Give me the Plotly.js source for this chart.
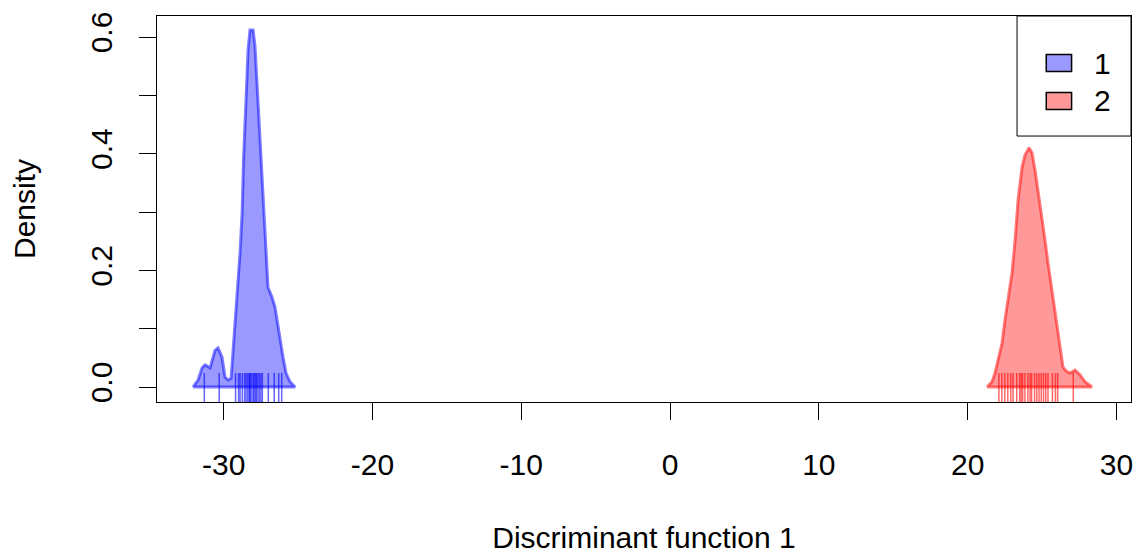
<!DOCTYPE html>
<html>
<head>
<meta charset="utf-8">
<script src="https://cdn.plot.ly/plotly-3.0.1.min.js"></script>
<style>
  html, body { margin: 0; padding: 0; background: #ffffff; }
  #chart { width: 1136px; height: 554px; }
</style>
</head>
<body>
<div id="chart"></div>
<script>
// Group labels
const groups = ["1", "2"];

// Kernel density of discriminant function 1, group 1
const dens1X = [-32.06, -31.72, -31.45, -31.25, -30.91, -30.58, -30.38, -30.11, -29.91, -29.70,
                -29.50, -29.37, -29.23, -29.03, -28.90, -28.76, -28.66, -28.49, -28.36, -28.23,
                -28.02, -27.89, -27.76, -27.62, -27.42, -27.28, -27.15, -27.02, -26.75, -26.55,
                -26.41, -26.21, -26.01, -25.81, -25.54, -25.20];
const dens1Y = [0.000, 0.012, 0.033, 0.038, 0.033, 0.063, 0.067, 0.051, 0.017, 0.012,
                0.015, 0.063, 0.103, 0.171, 0.230, 0.298, 0.394, 0.497, 0.578, 0.612,
                0.612, 0.583, 0.521, 0.441, 0.355, 0.286, 0.230, 0.171, 0.154, 0.137,
                0.115, 0.081, 0.051, 0.024, 0.009, 0.000];

// Kernel density of discriminant function 1, group 2
const dens2X = [21.30, 21.64, 21.84, 22.04, 22.31, 22.51, 22.72, 22.98, 23.19, 23.39,
                23.66, 23.86, 24.13, 24.33, 24.53, 24.73, 25.00, 25.20, 25.40, 25.67,
                25.87, 26.08, 26.28, 26.41, 26.68, 26.88, 27.22, 27.55, 27.89, 28.36];
const dens2Y = [0.000, 0.009, 0.024, 0.046, 0.075, 0.115, 0.154, 0.195, 0.252, 0.321,
                0.377, 0.398, 0.410, 0.401, 0.372, 0.338, 0.291, 0.252, 0.213, 0.166,
                0.127, 0.093, 0.058, 0.034, 0.026, 0.024, 0.029, 0.021, 0.009, 0.000];

// Individual scores (rug)
const scores1 = [-31.3, -30.3, -29.2, -29.0, -28.9, -28.75, -28.6, -28.5, -28.4, -28.3,
                 -28.25, -28.2, -28.1, -28.0, -27.95, -27.85, -27.8, -27.7, -27.6, -27.5,
                 -27.4, -27.0, -26.6, -26.3, -26.1];
const scores2 = [22.1, 22.3, 22.5, 22.7, 22.9, 23.05, 23.3, 23.5, 23.6, 23.7,
                 23.85, 24.05, 24.2, 24.3, 24.5, 24.65, 24.8, 24.95, 25.1, 25.25,
                 25.4, 25.7, 25.9, 26.05, 27.1];

// Axis ticks
const xTicks = [-30, -20, -10, 0, 10, 20, 30];
const xTickText = ["-30", "-20", "-10", "0", "10", "20", "30"];
const yTicks = [0, 0.1, 0.2, 0.3, 0.4, 0.5, 0.6];
const yTickText = ["0.0", "", "0.2", "", "0.4", "", "0.6"];

const Y_MIN = -0.0257, Y_MAX = 0.636;
const RUG_TOP = 0.024;
const FONT = "Liberation Sans, Arial, sans-serif";
const FSIZE = 30;

const fillCols = ["rgba(0,0,255,0.4)", "rgba(255,0,0,0.4)"];
const lineCols = ["rgba(0,0,255,0.5)", "rgba(255,0,0,0.5)"];
const rugCols  = ["rgba(0,0,255,0.6)", "rgba(255,0,0,0.6)"];
const swatchCols = ["#9999ff", "#ff9999"];

function polygon(xs, ys, i) {
  return {
    x: xs.concat([xs[0]]), y: ys.concat([ys[0]]),
    type: "scatter", mode: "lines", fill: "toself",
    fillcolor: fillCols[i],
    line: { color: lineCols[i], width: 3 },
    name: groups[i], showlegend: false, hoverinfo: "x+y"
  };
}

function rug(vals, i) {
  const x = [], y = [];
  vals.forEach(v => { x.push(v, v, null); y.push(Y_MIN, RUG_TOP, null); });
  return {
    x: x, y: y, type: "scatter", mode: "lines",
    line: { color: rugCols[i], width: 1.5 },
    showlegend: false, hoverinfo: "skip"
  };
}

const traces = [
  polygon(dens1X, dens1Y, 0),
  polygon(dens2X, dens2Y, 1),
  rug(scores1, 0),
  rug(scores2, 1)
];

// Legend drawn as a boxed key in the top-right corner
const shapes = [
  { type: "rect", xref: "paper", yref: "paper", x0: 0.883, x1: 1, y0: 0.689, y1: 1,
    line: { color: "#000", width: 1 }, fillcolor: "rgba(0,0,0,0)" }
];
const annotations = [];
const legendRows = [0.878, 0.78];
groups.forEach((g, i) => {
  shapes.push({ type: "rect", xref: "paper", yref: "paper",
    x0: 0.913, x1: 0.939, y0: legendRows[i] - 0.022, y1: legendRows[i] + 0.022,
    line: { color: "#000", width: 1.5 }, fillcolor: swatchCols[i] });
  annotations.push({ xref: "paper", yref: "paper", x: 0.971, y: legendRows[i],
    text: g, showarrow: false, xanchor: "center", yanchor: "middle",
    font: { family: FONT, size: FSIZE, color: "#000" } });
});

const layout = {
  width: 1136, height: 554,
  margin: { l: 157, r: 5, t: 16, b: 152 },
  paper_bgcolor: "#ffffff", plot_bgcolor: "#ffffff",
  showlegend: false,
  font: { family: FONT, size: FSIZE, color: "#000" },
  xaxis: {
    range: [-34.48, 30.98], tickmode: "array", tickvals: xTicks, ticktext: xTickText,
    ticks: "outside", ticklen: 17, tickwidth: 1, tickcolor: "#000",
    showline: true, mirror: true, linecolor: "#000", linewidth: 1,
    showgrid: false, zeroline: false, ticklabelstandoff: 19,
    tickfont: { family: FONT, size: FSIZE, color: "#000" },
    title: { text: "Discriminant function 1", standoff: 53,
             font: { family: FONT, size: FSIZE, color: "#000" } }
  },
  yaxis: {
    range: [Y_MIN, Y_MAX], tickmode: "array", tickvals: yTicks, ticktext: yTickText,
    ticks: "outside", ticklen: 17, tickwidth: 1, tickcolor: "#000", tickangle: -90,
    showline: true, mirror: true, linecolor: "#000", linewidth: 1,
    showgrid: false, zeroline: false, ticklabelstandoff: 15,
    tickfont: { family: FONT, size: FSIZE, color: "#000" },
    title: { text: "Density", standoff: 40,
             font: { family: FONT, size: FSIZE, color: "#000" } }
  },
  shapes: shapes,
  annotations: annotations
};

Plotly.newPlot("chart", traces, layout, { displayModeBar: false, staticPlot: true });
</script>
</body>
</html>
